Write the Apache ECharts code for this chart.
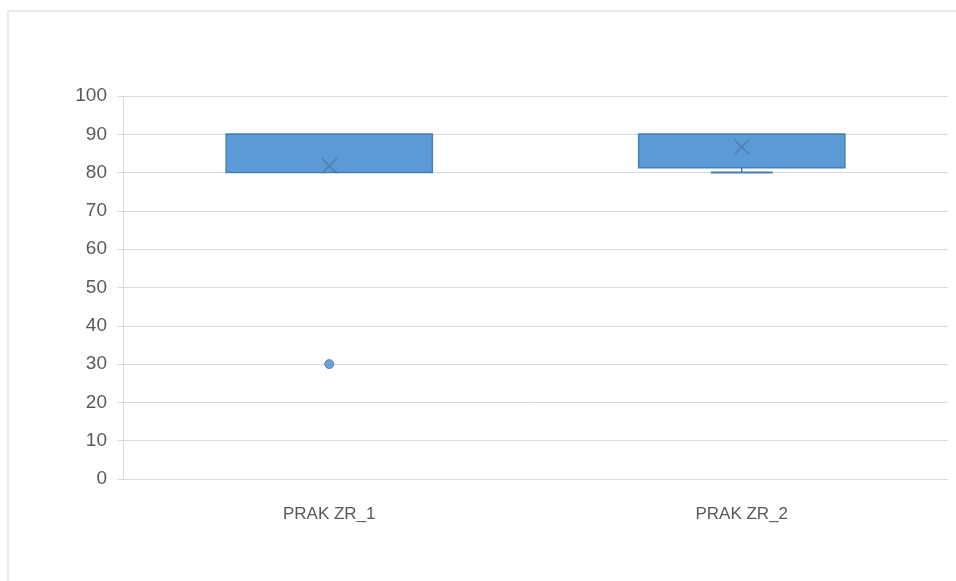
<!DOCTYPE html>
<html>
<head>
<meta charset="utf-8">
<script src="https://cdn.jsdelivr.net/npm/echarts@6/dist/echarts.min.js"></script>
<style>html,body{margin:0;padding:0;background:#fff;}#c{width:956px;height:581px;}</style>
</head>
<body>
<div id="c"></div>
<script>
var categories = ['PRAK ZR_1', 'PRAK ZR_2'];
var minVals = [80, 80];
var q1Vals = [80, 81.25];
var medianVals = [90, 90];
var q3Vals = [90, 90];
var maxVals = [90, 90];
var meanVals = [81.8, 86.7];
var outliers = [[0, 30]];
var yTicks = [0, 10, 20, 30, 40, 50, 60, 70, 80, 90, 100];

var fill = '#5B9BD5';
var stroke = '#4A7FB5';

var boxData = categories.map(function (c, i) {
  return [i, minVals[i], q1Vals[i], medianVals[i], q3Vals[i], maxVals[i]];
});

var chart = echarts.init(document.getElementById('c'));
chart.setOption({
  animation: false,
  backgroundColor: '#fff',
  graphic: [{
    type: 'rect', shape: { x: 8, y: 11, width: 960, height: 590 },
    style: { fill: 'none', stroke: '#E3E3E3', lineWidth: 1.5 }, silent: true, z: -1
  }],
  grid: { left: 123, right: 8, top: 96, bottom: 102 },
  xAxis: {
    type: 'category', data: categories,
    axisLine: { lineStyle: { color: '#D9D9D9' } },
    axisTick: { show: false },
    axisLabel: { color: '#595959', fontSize: 17, fontFamily: 'Liberation Sans, Arial', margin: 27 }
  },
  yAxis: {
    type: 'value', min: 0, max: 100, interval: 10,
    axisLine: { show: true, lineStyle: { color: '#D9D9D9' } },
    axisTick: { show: true, length: 6, inside: false, lineStyle: { color: '#D9D9D9' } },
    splitLine: { lineStyle: { color: '#D9D9D9' } },
    axisLabel: { color: '#595959', fontSize: 19, fontFamily: 'Liberation Sans, Arial', margin: 16,
      formatter: function (v) { return yTicks.indexOf(v) >= 0 ? String(v) : ''; } }
  },
  series: [{
    type: 'custom',
    data: boxData,
    encode: { x: 0, y: [1, 2, 3, 4, 5] },
    renderItem: function (params, api) {
      var idx = api.value(0);
      var pMin = api.coord([idx, api.value(1)]);
      var pQ1 = api.coord([idx, api.value(2)]);
      var pMed = api.coord([idx, api.value(3)]);
      var pQ3 = api.coord([idx, api.value(4)]);
      var pMax = api.coord([idx, api.value(5)]);
      var bw = api.size([1, 0])[0] * 0.5;
      var cw = bw * 0.3;
      var cx = pQ1[0];
      var ls = { stroke: stroke, lineWidth: 1.5 };
      var children = [
        { type: 'rect', shape: { x: cx - bw / 2, y: pQ3[1], width: bw, height: pQ1[1] - pQ3[1] },
          style: { fill: fill, stroke: stroke, lineWidth: 1.5 } },
        { type: 'line', shape: { x1: cx - bw / 2, y1: pMed[1], x2: cx + bw / 2, y2: pMed[1] }, style: ls }
      ];
      if (pMin[1] - pQ1[1] > 0.5) {
        children.push({ type: 'line', shape: { x1: cx, y1: pQ1[1], x2: cx, y2: pMin[1] }, style: ls });
        children.push({ type: 'line', shape: { x1: cx - cw / 2, y1: pMin[1], x2: cx + cw / 2, y2: pMin[1] }, style: { stroke: stroke, lineWidth: 2 } });
      }
      if (pQ3[1] - pMax[1] > 0.5) {
        children.push({ type: 'line', shape: { x1: cx, y1: pQ3[1], x2: cx, y2: pMax[1] }, style: ls });
        children.push({ type: 'line', shape: { x1: cx - cw / 2, y1: pMax[1], x2: cx + cw / 2, y2: pMax[1] }, style: { stroke: stroke, lineWidth: 2 } });
      }
      return { type: 'group', children: children };
    }
  }, {
    type: 'scatter',
    data: meanVals.map(function (v, i) { return [i, v]; }),
    symbol: 'path://M0,0 L10,10 M10,0 L0,10',
    symbolSize: 15,
    itemStyle: { color: 'none', borderColor: '#4F76A3', borderWidth: 1.5 },
    z: 5
  }, {
    type: 'scatter',
    data: outliers,
    symbol: 'circle',
    symbolSize: 9,
    itemStyle: { color: '#4A89C8', borderColor: '#41719C', borderWidth: 1 },
    z: 5
  }]
});
</script>
</body>
</html>
